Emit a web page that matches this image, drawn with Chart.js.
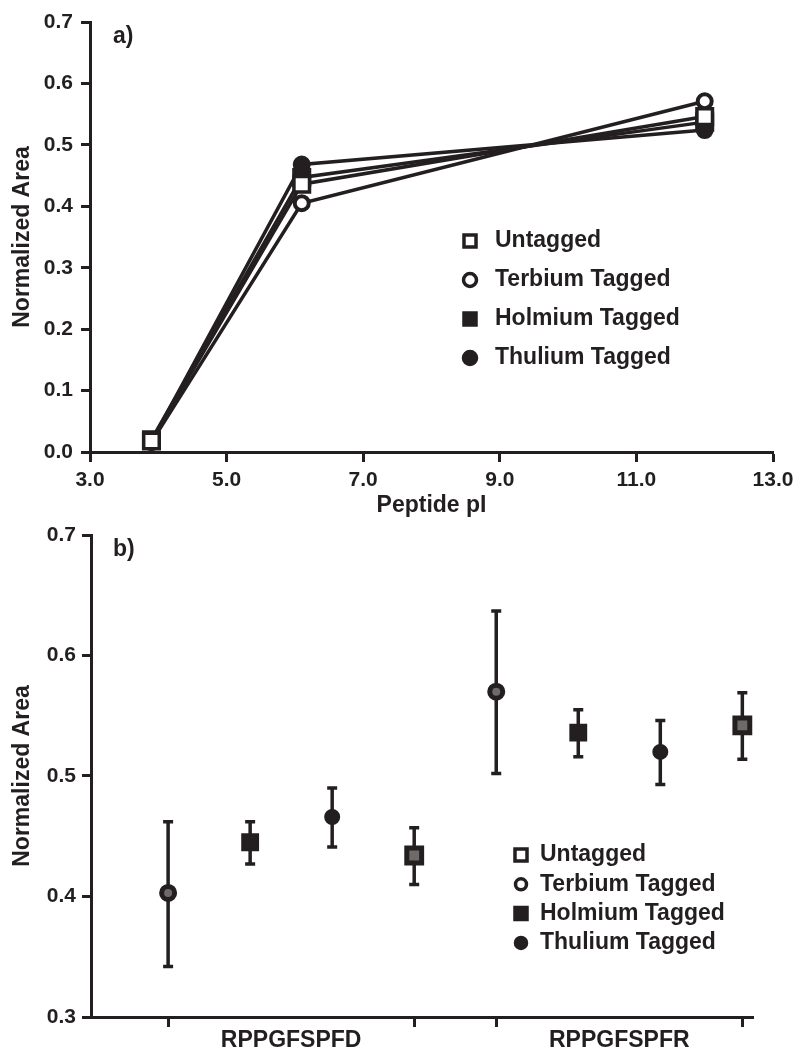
<!DOCTYPE html>
<html>
<head>
<meta charset="utf-8">
<title>Normalized Area</title>
<script src="https://cdn.jsdelivr.net/npm/chart.js@4.4.1/dist/chart.umd.min.js"></script>
<style>
  html, body { margin: 0; padding: 0; background: #fff; }
  #wrap { position: relative; width: 800px; height: 1049px; overflow: hidden; }
  #wrap canvas { position: absolute; left: 0; }
  #piChart { top: 0; }
  #peptideChart { top: 500px; }
</style>
</head>
<body>
<div id="wrap">
  <canvas id="piChart" width="800" height="530"></canvas>
  <canvas id="peptideChart" width="800" height="549"></canvas>
</div>
<script>
var INK = '#231f20';
var FONT = "'Liberation Sans', Arial, Helvetica, sans-serif";

var SERIES = ['Untagged', 'Terbium Tagged', 'Holmium Tagged', 'Thulium Tagged'];

// panel a: normalized area against peptide pI
var PEPTIDE_PI = [3.9, 6.1, 12.0];
var PI_UNTAGGED = [0.018, 0.436, 0.546];
var PI_TERBIUM = [0.016, 0.405, 0.571];
var PI_HOLMIUM = [0.020, 0.447, 0.537];
var PI_THULIUM = [0.017, 0.468, 0.524];
var PI_TICKS = [3, 5, 7, 9, 11, 13];
var AREA_TICKS_A = [0, 0.1, 0.2, 0.3, 0.4, 0.5, 0.6, 0.7];

// panel b: mean with low / high of the error bar, one value per peptide
var PEPTIDES = ['RPPGFSPFD', 'RPPGFSPFR'];
var SLOT_ORDER = ['Terbium Tagged', 'Holmium Tagged', 'Thulium Tagged', 'Untagged'];
var MEAN_UNTAGGED = [0.434, 0.542];
var LOW_UNTAGGED = [0.410, 0.514];
var HIGH_UNTAGGED = [0.457, 0.569];
var MEAN_TERBIUM = [0.403, 0.570];
var LOW_TERBIUM = [0.342, 0.502];
var HIGH_TERBIUM = [0.462, 0.637];
var MEAN_HOLMIUM = [0.445, 0.536];
var LOW_HOLMIUM = [0.427, 0.516];
var HIGH_HOLMIUM = [0.462, 0.555];
var MEAN_THULIUM = [0.466, 0.520];
var LOW_THULIUM = [0.441, 0.493];
var HIGH_THULIUM = [0.490, 0.546];
var AREA_TICKS_B = [0.3, 0.4, 0.5, 0.6, 0.7];

// marker look per series: open square, open circle, filled square, filled circle
var MARK_STYLE = ['rect', 'circle', 'rect', 'circle'];
var MARK_OPEN = [true, true, false, false];

Chart.defaults.font.family = FONT;
Chart.defaults.color = INK;

function boldFont(size) {
  return { family: FONT, size: size, weight: 'bold' };
}

function drawMark(ctx, style, radius, borderWidth, fill, x, y) {
  ctx.save();
  ctx.fillStyle = fill;
  ctx.strokeStyle = INK;
  ctx.lineWidth = borderWidth;
  ctx.beginPath();
  if (style === 'rect') {
    var half = radius * Math.SQRT1_2;
    ctx.rect(x - half, y - half, half * 2, half * 2);
  } else {
    ctx.arc(x, y, radius, 0, Math.PI * 2);
  }
  ctx.fill();
  ctx.stroke();
  ctx.restore();
}

// legend drawn inside the plot, one row per dataset
var markLegendPlugin = {
  id: 'markLegend',
  afterDraw: function (chart, args, opts) {
    var ctx = chart.ctx;
    chart.data.datasets.forEach(function (ds, i) {
      var y = opts.top + i * opts.rowHeight;
      var r = ds.pointStyle === 'rect' ? opts.rectRadius : opts.radius;
      drawMark(ctx, ds.pointStyle, r, opts.borderWidth, opts.open[i] ? '#fff' : INK, opts.markerX, y);
      ctx.save();
      ctx.font = 'bold ' + opts.fontSize + 'px ' + FONT;
      ctx.textBaseline = 'middle';
      ctx.fillStyle = INK;
      ctx.fillText(ds.label, opts.textX, y);
      ctx.restore();
    });
  }
};

var panelLabelPlugin = {
  id: 'panelLabel',
  afterDraw: function (chart, args, opts) {
    var ctx = chart.ctx;
    ctx.save();
    ctx.font = 'bold ' + opts.fontSize + 'px ' + FONT;
    ctx.textBaseline = 'middle';
    ctx.fillStyle = INK;
    ctx.fillText(opts.text, opts.x, opts.y);
    ctx.restore();
  }
};

// vertical bars with caps, drawn under the markers
var errorBarPlugin = {
  id: 'errorBars',
  beforeDatasetsDraw: function (chart, args, opts) {
    var ctx = chart.ctx;
    var xs = chart.scales.x;
    var ys = chart.scales.y;
    ctx.save();
    ctx.strokeStyle = INK;
    ctx.lineWidth = opts.width;
    chart.data.datasets.forEach(function (ds) {
      ds.data.forEach(function (pt) {
        var px = xs.getPixelForValue(pt.x);
        var top = ys.getPixelForValue(pt.high);
        var bot = ys.getPixelForValue(pt.low);
        ctx.beginPath();
        ctx.moveTo(px, top);
        ctx.lineTo(px, bot);
        ctx.moveTo(px - opts.cap, top);
        ctx.lineTo(px + opts.cap, top);
        ctx.moveTo(px - opts.cap, bot);
        ctx.lineTo(px + opts.cap, bot);
        ctx.stroke();
      });
    });
    ctx.restore();
  }
};

function axisStyle(tickLength) {
  return {
    border: { display: true, color: INK, width: 3 },
    grid: {
      display: true,
      drawOnChartArea: false,
      drawTicks: true,
      tickLength: tickLength,
      tickWidth: 3,
      tickColor: INK
    }
  };
}

/* ---- panel a ---- */
var piSeries = [PI_UNTAGGED, PI_TERBIUM, PI_HOLMIUM, PI_THULIUM];

var piDatasets = SERIES.map(function (name, i) {
  return {
    label: name,
    data: PEPTIDE_PI.map(function (x, k) { return { x: x, y: piSeries[i][k] }; }),
    showLine: true,
    borderColor: INK,
    borderWidth: 3.5,
    pointStyle: MARK_STYLE[i],
    pointRadius: MARK_STYLE[i] === 'rect' ? 11 : 7,
    pointBorderWidth: MARK_STYLE[i] === 'rect' ? 3.5 : 4,
    pointBorderColor: INK,
    pointBackgroundColor: MARK_OPEN[i] ? '#fff' : INK
  };
});

var piX = axisStyle(10);
piX.type = 'linear';
piX.min = 3;
piX.max = 13;
piX.afterBuildTicks = function (scale) {
  scale.ticks = PI_TICKS.map(function (v) { return { value: v }; });
};
piX.afterFit = function (scale) { scale.height = 78; };
piX.ticks = {
  font: boldFont(21),
  color: INK,
  padding: 6,
  maxRotation: 0,
  callback: function (v) { return Number(v).toFixed(1); }
};
piX.title = { display: true, text: 'Peptide pI', font: boldFont(23), color: INK, padding: { top: 0, bottom: 11 } };

var piY = axisStyle(9);
piY.min = 0;
piY.max = 0.7;
piY.afterBuildTicks = function (scale) {
  scale.ticks = AREA_TICKS_A.map(function (v) { return { value: v }; });
};
piY.afterFit = function (scale) { scale.width = 90; };
piY.ticks = {
  font: boldFont(21),
  color: INK,
  padding: 8,
  callback: function (v) { return Number(v).toFixed(1); }
};
piY.title = { display: true, text: 'Normalized Area', font: boldFont(23), color: INK, padding: { top: 9, bottom: 0 } };

new Chart(document.getElementById('piChart'), {
  type: 'scatter',
  data: { datasets: piDatasets },
  options: {
    responsive: false,
    animation: false,
    events: [],
    layout: { padding: { top: 22, right: 27, bottom: 0, left: 0 } },
    scales: { x: piX, y: piY },
    plugins: {
      legend: { display: false },
      tooltip: { enabled: false },
      markLegend: {
        top: 241, rowHeight: 39, markerX: 470, textX: 495,
        radius: 6.5, rectRadius: 8.5, borderWidth: 3.5, fontSize: 23, open: MARK_OPEN
      },
      panelLabel: { text: 'a)', x: 113, y: 37, fontSize: 23 }
    }
  },
  plugins: [markLegendPlugin, panelLabelPlugin]
});

/* ---- panel b ---- */
var SLOTS = SLOT_ORDER.length;
var meanSeries = [MEAN_UNTAGGED, MEAN_TERBIUM, MEAN_HOLMIUM, MEAN_THULIUM];
var lowSeries = [LOW_UNTAGGED, LOW_TERBIUM, LOW_HOLMIUM, LOW_THULIUM];
var highSeries = [HIGH_UNTAGGED, HIGH_TERBIUM, HIGH_HOLMIUM, HIGH_THULIUM];

var peptideDatasets = SERIES.map(function (name, i) {
  var slot = SLOT_ORDER.indexOf(name);
  return {
    label: name,
    data: PEPTIDES.map(function (p, g) {
      return { x: g * SLOTS + slot, y: meanSeries[i][g], low: lowSeries[i][g], high: highSeries[i][g] };
    }),
    showLine: false,
    pointStyle: MARK_STYLE[i],
    pointRadius: MARK_STYLE[i] === 'rect' ? 10.5 : 6.5,
    pointBorderWidth: MARK_OPEN[i] ? 5 : 3,
    pointBorderColor: INK,
    pointBackgroundColor: MARK_OPEN[i] ? '#6e6a68' : INK
  };
});

// tick marks at the ends of each peptide group, the name at its middle
var groupTicks = [];
var groupCentres = [];
PEPTIDES.forEach(function (p, g) {
  var centre = g * SLOTS + (SLOTS - 1) / 2;
  groupTicks.push(g * SLOTS, centre, g * SLOTS + SLOTS - 1);
  groupCentres.push(centre);
});

var pepX = axisStyle(10);
pepX.type = 'linear';
pepX.min = -0.94;
pepX.max = 7.13;
pepX.afterBuildTicks = function (scale) {
  scale.ticks = groupTicks.map(function (v) { return { value: v }; });
};
pepX.afterFit = function (scale) { scale.height = 32; };
pepX.grid.tickColor = function (ctx) {
  return ctx.tick && groupCentres.indexOf(ctx.tick.value) !== -1 ? 'rgba(0,0,0,0)' : INK;
};
pepX.ticks = {
  font: boldFont(23),
  color: INK,
  padding: 0,
  maxRotation: 0,
  autoSkip: false,
  callback: function (v) {
    var g = groupCentres.indexOf(v);
    return g === -1 ? '' : PEPTIDES[g];
  }
};

var pepY = axisStyle(9);
pepY.min = 0.3;
pepY.max = 0.7;
pepY.afterBuildTicks = function (scale) {
  scale.ticks = AREA_TICKS_B.map(function (v) { return { value: v }; });
};
pepY.afterFit = function (scale) { scale.width = 91; };
pepY.ticks = {
  font: boldFont(21),
  color: INK,
  padding: 6,
  callback: function (v) { return Number(v).toFixed(1); }
};
pepY.title = { display: true, text: 'Normalized Area', font: boldFont(23), color: INK, padding: { top: 9, bottom: 0 } };

new Chart(document.getElementById('peptideChart'), {
  type: 'scatter',
  data: { datasets: peptideDatasets },
  options: {
    responsive: false,
    animation: false,
    events: [],
    layout: { padding: { top: 35, right: 47, bottom: 0, left: 0 } },
    scales: { x: pepX, y: pepY },
    plugins: {
      legend: { display: false },
      tooltip: { enabled: false },
      errorBars: { width: 3.5, cap: 5 },
      markLegend: {
        top: 355, rowHeight: 29.3, markerX: 521, textX: 540,
        radius: 5.5, rectRadius: 8.5, borderWidth: 3.5, fontSize: 23, open: MARK_OPEN
      },
      panelLabel: { text: 'b)', x: 113, y: 50, fontSize: 23 }
    }
  },
  plugins: [errorBarPlugin, markLegendPlugin, panelLabelPlugin]
});
</script>
</body>
</html>
